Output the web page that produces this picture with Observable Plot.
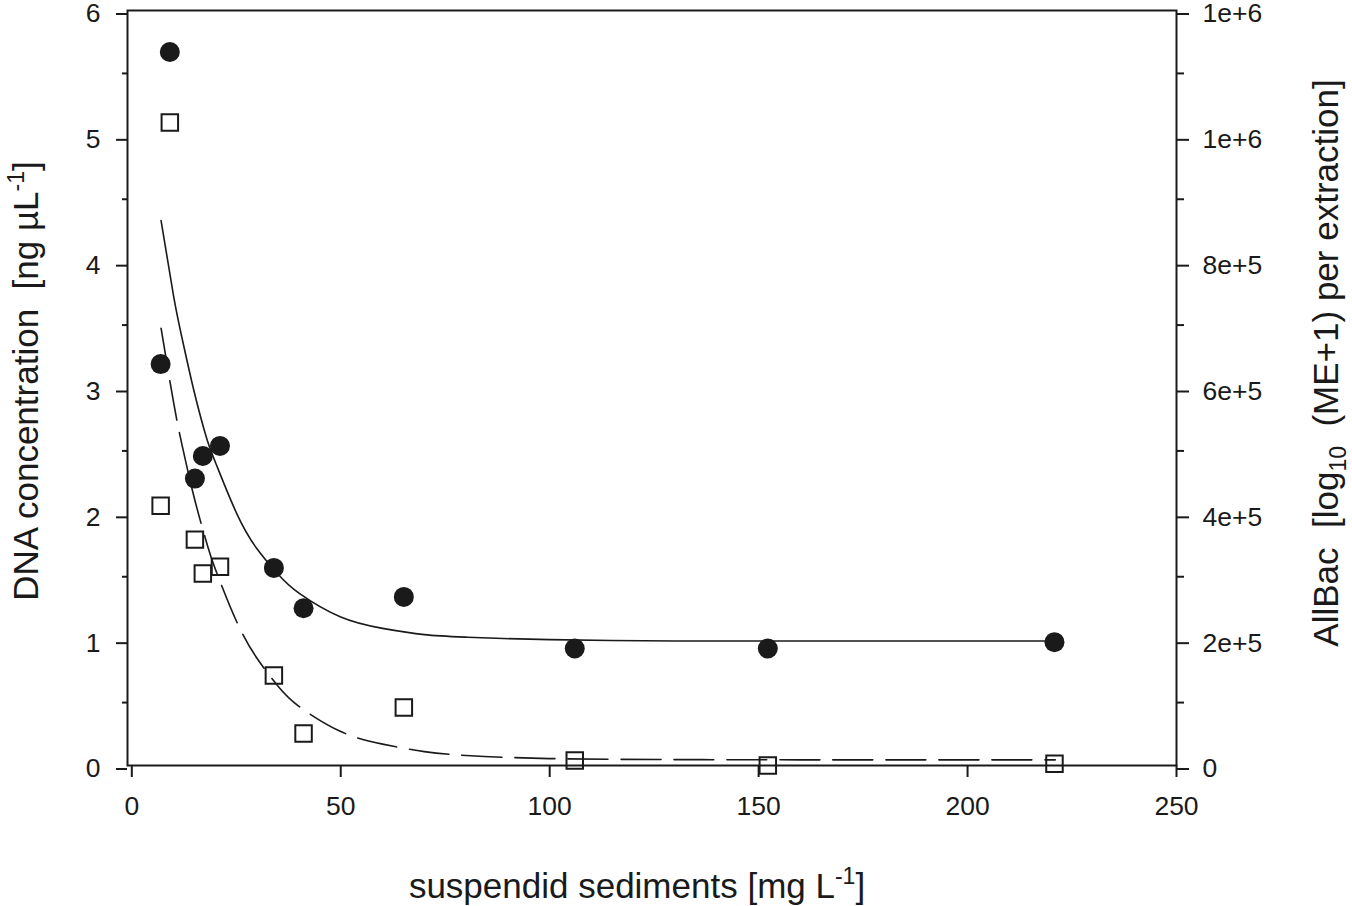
<!DOCTYPE html>
<html>
<head>
<meta charset="utf-8">
<script src="https://cdn.jsdelivr.net/npm/d3@7"></script>
<script src="https://cdn.jsdelivr.net/npm/@observablehq/plot@0.6"></script>
<style>
  html, body { margin: 0; padding: 0; background: #fff; }
  #chart { width: 1352px; height: 906px; }
</style>
</head>
<body>
<div id="chart"></div>
<script>
// ---- data ----
const xTicks = [0, 50, 100, 150, 200, 250];
const yTicks = [0, 1, 2, 3, 4, 5, 6];
const yMinor = [0.5, 1.5, 2.5, 3.5, 4.5, 5.5];
const rightTicks = [0, 2e5, 4e5, 6e5, 8e5, 1e6, 1.2e6];
const rightLabels = ["0", "2e+5", "4e+5", "6e+5", "8e+5", "1e+6", "1e+6"];
const rightMinor = [1e5, 3e5, 5e5, 7e5, 9e5, 1.1e6];
const rightMax = 1.2e6;
const leftMax = 6;

// suspended sediments [mg/L]
const sediments = [9.1, 6.9, 15.1, 17.0, 21.1, 34.0, 41.1, 65.1, 106, 152.2, 220.8];
// DNA concentration [ng/µL] (filled circles, left axis)
const dna = [5.67, 3.19, 2.28, 2.46, 2.54, 1.57, 1.25, 1.34, 0.93, 0.93, 0.98];
// AllBac (open squares, right axis)
const allbac = [1022000, 413000, 359000, 305000, 316000, 143000, 51000, 92000, 8000, 0, 2700];

// fitted curves
const fitX = [7, 10, 12, 15, 18, 20, 25, 30, 35, 40, 50, 60, 70, 80, 100, 130, 160, 221];
const dnaFit = [4.33, 3.73, 3.40, 2.96, 2.59, 2.41, 2.01, 1.72, 1.52, 1.37, 1.18, 1.09, 1.04, 1.02, 1.00, 0.99, 0.99, 0.99];
const allbacFit = [695000, 577000, 510000, 424000, 352000, 312000, 230000, 170000, 126000, 94000, 54000, 34000, 22000, 16000, 11000, 9400, 9000, 9000];

// ---- build tables ----
const k = rightMax / leftMax; // right units per left unit
const circles = sediments.map((x, i) => ({x, y: dna[i]}));
const squares = sediments.map((x, i) => ({x, y: allbac[i] / k}));
const solid = fitX.map((x, i) => ({x, y: dnaFit[i]}));
const dashed = fitX.map((x, i) => ({x, y: allbacFit[i] / k}));
const rightLabelMap = new Map(rightTicks.map((t, i) => [t / k, rightLabels[i]]));

const FONT = "'Liberation Sans', Arial, Helvetica, sans-serif";
const INK = "#1a1a1a";

const plot = Plot.plot({
  width: 1352,
  height: 906,
  marginLeft: 127,
  marginRight: 176,
  marginTop: 10,
  marginBottom: 141,
  style: {fontFamily: FONT, fontSize: "26.5px", color: INK, background: "#fff", overflow: "visible"},
  x: {domain: [-1.03, 250]},
  y: {domain: [0, leftMax]},
  marks: [
    Plot.frame({stroke: INK, strokeWidth: 2}),
    Plot.axisX({ticks: xTicks, tickSize: 12, tickPadding: 19, strokeWidth: 2, label: null, tickFormat: d => String(d)}),
    Plot.axisY({ticks: yTicks, tickSize: 11, tickPadding: 16, strokeWidth: 2, label: null, dy: 3.5, tickFormat: d => String(d)}),
    Plot.axisY({ticks: yMinor, tickSize: 5, strokeWidth: 2, label: null, tickFormat: () => ""}),
    Plot.axisY({anchor: "right", ticks: rightTicks.map(t => t / k), tickSize: 12, tickPadding: 14, strokeWidth: 2, label: null, dy: 3.5, tickFormat: d => rightLabelMap.get(d)}),
    Plot.axisY({anchor: "right", ticks: rightMinor.map(t => t / k), tickSize: 7, strokeWidth: 2, label: null, tickFormat: () => ""}),
    Plot.line(solid, {x: "x", y: "y", curve: "natural", stroke: INK, strokeWidth: 1.6}),
    Plot.line(dashed, {x: "x", y: "y", curve: "natural", stroke: INK, strokeWidth: 1.6, strokeDasharray: "40,13"}),
    Plot.dot(squares, {x: "x", y: "y", symbol: "square", r: 9.3, fill: "none", stroke: INK, strokeWidth: 2}),
    Plot.dot(circles, {x: "x", y: "y", r: 10, fill: INK, stroke: "none"})
  ]
});

document.getElementById("chart").appendChild(plot);

// axis titles with super/subscripts
const svg = d3.select(plot);
const titleSize = 35;
const supSize = 23;

const left = svg.append("text")
  .attr("transform", "translate(38,381) rotate(-90)")
  .attr("text-anchor", "middle")
  .attr("fill", INK)
  .style("font-family", FONT)
  .style("font-size", titleSize + "px");
left.append("tspan").text("DNA concentration  [ng µL");
left.append("tspan").attr("dy", -14).style("font-size", supSize + "px").text("-1");
left.append("tspan").attr("dy", 14).text("]");

const right = svg.append("text")
  .attr("transform", "translate(1338,363) rotate(-90)")
  .attr("text-anchor", "middle")
  .attr("fill", INK)
  .style("font-family", FONT)
  .style("font-size", titleSize + "px");
right.append("tspan").text("AllBac  [log");
right.append("tspan").attr("dy", 8).style("font-size", supSize + "px").text("10");
right.append("tspan").attr("dy", -8).text("  (ME+1) per extraction]");

const bottom = svg.append("text")
  .attr("transform", "translate(637,898)")
  .attr("text-anchor", "middle")
  .attr("fill", INK)
  .style("font-family", FONT)
  .style("font-size", titleSize + "px");
bottom.append("tspan").text("suspendid sediments [mg L");
bottom.append("tspan").attr("dy", -14).style("font-size", supSize + "px").text("-1");
bottom.append("tspan").attr("dy", 14).text("]");
</script>
</body>
</html>
